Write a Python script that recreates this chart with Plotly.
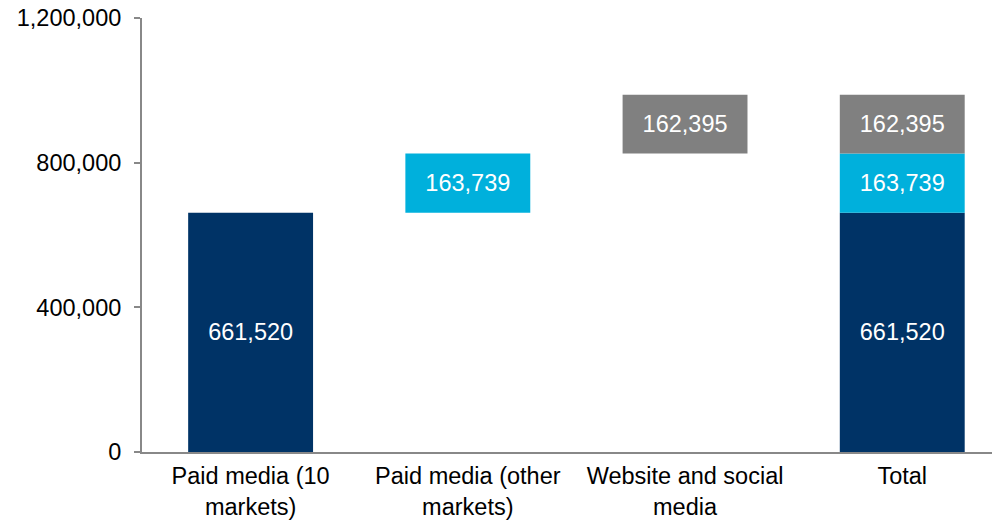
import plotly.graph_objects as go

categories = ["Paid media (10<br>markets)", "Paid media (other<br>markets)", "Website and social<br>media", "Total"]
paid10 = [661520, None, None, 661520]
paid_other = [None, 163739, None, 163739]
web_social = [None, None, 162395, 162395]
tick_vals = [0, 400000, 800000, 1200000]
tick_text = ["0", "400,000", "800,000", "1,200,000"]

base_other = [None, paid10[0], None, paid10[0]]
base_web = [None, None, paid10[0] + paid_other[1], paid10[0] + paid_other[1]]

font = "Liberation Sans, Arial, sans-serif"
fs = 23.5
fig = go.Figure()
for vals, base, color in [
    (paid10, [0, None, None, 0], "#003366"),
    (paid_other, base_other, "#00B0DC"),
    (web_social, base_web, "#808080"),
]:
    fig.add_trace(go.Bar(
        x=list(range(4)), y=vals, base=base, marker=dict(color=color, line=dict(width=0)),
        width=0.575, texttemplate="%{y:,}", textposition="inside",
        insidetextanchor="middle", textfont=dict(color="white", size=fs, family=font),
        showlegend=False, hoverinfo="skip",
    ))

fig.update_layout(
    width=992, height=513, barmode="overlay",
    margin=dict(l=134, r=0, t=10, b=69, autoexpand=False),
    plot_bgcolor="white", paper_bgcolor="white",
    font=dict(family=font, size=fs, color="black"),
    uniformtext=dict(minsize=fs, mode="show"),
)
fig.update_xaxes(
    range=[-0.5, 3.45], tickvals=list(range(4)), ticktext=categories,
    showline=True, linecolor="#888888", linewidth=2, ticks="", showgrid=False,
    zeroline=False, tickfont=dict(size=fs), ticklabelstandoff=2, automargin=False,
)
fig.update_yaxes(
    range=[0, 1200000], tickvals=tick_vals, ticktext=tick_text,
    showline=True, linecolor="#888888", linewidth=2, ticks="outside", ticklen=6,
    tickcolor="#888888", tickwidth=2, showgrid=False, zeroline=False,
    tickfont=dict(size=fs), ticklabelstandoff=8, ticklabeloverflow="allow",
    automargin=False,
)
fig.write_html("out.html")
